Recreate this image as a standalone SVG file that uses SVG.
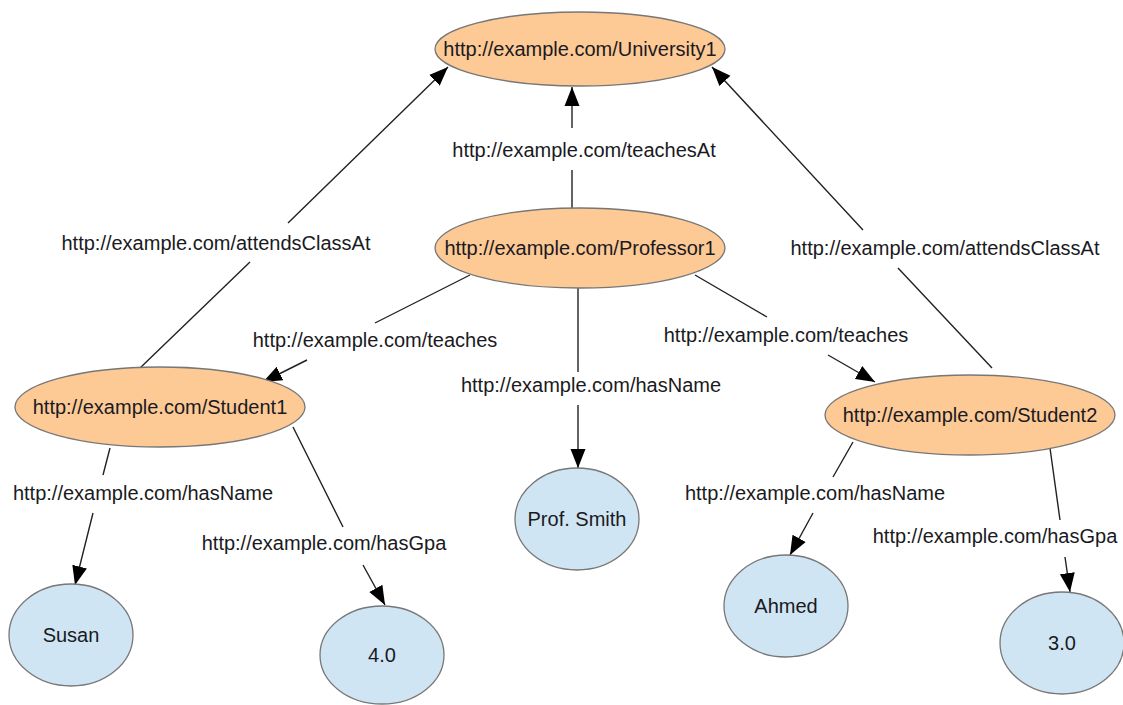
<svg xmlns="http://www.w3.org/2000/svg" width="1123" height="705" viewBox="0 0 1123 705">
<style>
text{font-family:"Liberation Sans",Arial,sans-serif;font-size:20px;fill:#1a1a22;text-anchor:middle}
.res{fill:#fdc995;stroke:#777;stroke-width:1.3}
.lit{fill:#d0e5f3;stroke:#777;stroke-width:1.3}
.edge{fill:none;stroke:#222;stroke-width:1.4}
</style>
<defs>
<marker id="arr" markerUnits="userSpaceOnUse" markerWidth="20" markerHeight="16" refX="19" refY="8" orient="auto">
<path d="M0,0.5 L19,8 L0,15.5 z" fill="#000"/>
</marker>
</defs>
<rect width="1123" height="705" fill="#fff"/>
<g id="connectors">
<g id="e-s1-univ"><path class="edge" d="M140,368 L250,262 M288,223 L448,67" marker-end="url(#arr)"/><text x="216" y="250">http://example.com/attendsClassAt</text></g>
<g id="e-s2-univ"><path class="edge" d="M992,368 L898,268 M863,230 L712,67" marker-end="url(#arr)"/><text x="945" y="255">http://example.com/attendsClassAt</text></g>
<g id="e-prof-univ"><path class="edge" d="M572,208 L572,170 M572,128 L572,87" marker-end="url(#arr)"/><text x="584" y="157">http://example.com/teachesAt</text></g>
<g id="e-prof-s1"><path class="edge" d="M470,275 L375,323 M307,360 L263,382" marker-end="url(#arr)"/><text x="375" y="347">http://example.com/teaches</text></g>
<g id="e-prof-s2"><path class="edge" d="M695,275 L767,317 M828,355 L875,382" marker-end="url(#arr)"/><text x="786" y="342">http://example.com/teaches</text></g>
<g id="e-prof-name"><path class="edge" d="M578,288 L578,372 M578,405 L578,468" marker-end="url(#arr)"/><text x="591" y="392">http://example.com/hasName</text></g>
<g id="e-s1-name"><path class="edge" d="M110,448 L103,475 M93,513 L75,585" marker-end="url(#arr)"/><text x="143" y="500">http://example.com/hasName</text></g>
<g id="e-s1-gpa"><path class="edge" d="M293,427 L343,527 M363,565 L385,605" marker-end="url(#arr)"/><text x="324" y="550">http://example.com/hasGpa</text></g>
<g id="e-s2-name"><path class="edge" d="M853,442 L833,477 M813,513 L790,555" marker-end="url(#arr)"/><text x="815" y="500">http://example.com/hasName</text></g>
<g id="e-s2-gpa"><path class="edge" d="M1050,448 L1060,520 M1065,557 L1070,592" marker-end="url(#arr)"/><text x="995" y="543">http://example.com/hasGpa</text></g>
</g>
<g id="university1"><ellipse class="res" cx="580" cy="49" rx="145" ry="37"/><text x="580" y="56">http://example.com/University1</text></g>
<g id="professor1"><ellipse class="res" cx="580" cy="248" rx="145" ry="40"/><text x="580" y="255">http://example.com/Professor1</text></g>
<g id="student1"><ellipse class="res" cx="160" cy="407" rx="145" ry="40"/><text x="160" y="414">http://example.com/Student1</text></g>
<g id="student2"><ellipse class="res" cx="970" cy="415" rx="145" ry="40"/><text x="970" y="422">http://example.com/Student2</text></g>
<g id="susan"><ellipse class="lit" cx="71" cy="635" rx="62" ry="51"/><text x="71" y="642">Susan</text></g>
<g id="gpa40"><ellipse class="lit" cx="382" cy="655" rx="62" ry="49"/><text x="382" y="662">4.0</text></g>
<g id="profsmith"><ellipse class="lit" cx="577" cy="519" rx="62" ry="51"/><text x="577" y="526">Prof. Smith</text></g>
<g id="ahmed"><ellipse class="lit" cx="786" cy="606" rx="62" ry="51"/><text x="786" y="613">Ahmed</text></g>
<g id="gpa30"><ellipse class="lit" cx="1062" cy="643" rx="62" ry="51"/><text x="1062" y="650">3.0</text></g>
</svg>
